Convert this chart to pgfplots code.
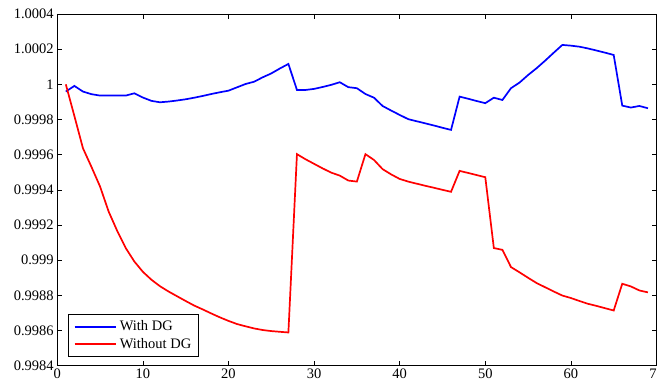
\documentclass[border=0pt]{standalone}
\usepackage{fontspec}
\setmainfont{Liberation Serif}
\usepackage{pgfplots}
\pgfplotsset{compat=1.18}
\usepackage{pgfplotstable}

\pgfplotstableread{
x y
1 0.999959
2 0.999991
3 0.999959
4 0.999944
5 0.999936
6 0.999936
7 0.999936
8 0.999936
9 0.999949
10 0.999925
11 0.999906
12 0.999898
13 0.999902
14 0.999908
15 0.999915
16 0.999924
17 0.999934
18 0.999945
19 0.999955
20 0.999964
21 0.999983
22 1.000002
23 1.000015
24 1.000040
25 1.000062
26 1.000090
27 1.000116
28 0.999968
29 0.999968
30 0.999974
31 0.999985
32 0.999997
33 1.000012
34 0.999984
35 0.999978
36 0.999945
37 0.999924
38 0.999877
39 0.999851
40 0.999826
41 0.999802
42 0.999790
43 0.999778
44 0.999766
45 0.999753
46 0.999741
47 0.999930
48 0.999918
49 0.999905
50 0.999893
51 0.999924
52 0.999911
53 0.999978
54 1.000010
55 1.000053
56 1.000092
57 1.000135
58 1.000180
59 1.000224
60 1.000220
61 1.000214
62 1.000204
63 1.000192
64 1.000180
65 1.000167
66 0.999879
67 0.999868
68 0.999877
69 0.999864
}\withDG

\pgfplotstableread{
x y
1 1.000000
2 0.999820
3 0.999637
4 0.999530
5 0.999419
6 0.999277
7 0.999167
8 0.999069
9 0.998993
10 0.998934
11 0.998889
12 0.998852
13 0.998822
14 0.998795
15 0.998768
16 0.998742
17 0.998720
18 0.998697
19 0.998675
20 0.998655
21 0.998637
22 0.998624
23 0.998612
24 0.998603
25 0.998597
26 0.998593
27 0.998589
28 0.999603
29 0.999574
30 0.999548
31 0.999522
32 0.999498
33 0.999481
34 0.999453
35 0.999447
36 0.999603
37 0.999570
38 0.999518
39 0.999488
40 0.999462
41 0.999447
42 0.999435
43 0.999423
44 0.999412
45 0.999400
46 0.999389
47 0.999508
48 0.999496
49 0.999484
50 0.999472
51 0.999069
52 0.999059
53 0.998961
54 0.998931
55 0.998900
56 0.998870
57 0.998846
58 0.998822
59 0.998799
60 0.998785
61 0.998768
62 0.998752
63 0.998740
64 0.998727
65 0.998714
66 0.998866
67 0.998851
68 0.998828
69 0.998817
}\withoutDG

\begin{document}
\begin{tikzpicture}
\begin{axis}[
  scale only axis,
  width=599.7pt, height=352pt,
  xmin=0, xmax=70, ymin=0.9984, ymax=1.0004,
  xtick={0,10,...,70},
  ytick={0.9984,0.9986,0.9988,0.999,0.9992,0.9994,0.9996,0.9998,1,1.0002,1.0004},
  yticklabels={0.9984,0.9986,0.9988,0.999,0.9992,0.9994,0.9996,0.9998,1,1.0002,1.0004},
  tick align=inside,
  major tick length=5pt,
  tick style={black, line width=0.6pt},
  axis line style={black, line width=0.9pt},
  /pgf/number format/assume math mode=true,
  tick label style={font=\fontsize{14.5}{17}\selectfont},
  legend style={at={(0.0183,0.0264)}, anchor=south west, draw=black, line width=0.9pt,
    font=\fontsize{14.5}{17}\selectfont, inner xsep=5pt, inner ysep=3.5pt,
    nodes={inner sep=2.5pt}, row sep=1pt},
  legend cell align=left,
  legend image code/.code={\draw[#1] (0pt,0pt) -- (42pt,0pt);},
]
\addplot[blue, line width=1.7pt] table[x=x,y=y] {\withDG};
\addlegendentry{With DG}
\addplot[red, line width=1.7pt] table[x=x,y=y] {\withoutDG};
\addlegendentry{Without DG}
\end{axis}
\pgfresetboundingbox
\useasboundingbox ([shift={(-57.3pt,-20pt)}]current axis.south west) rectangle ([shift={(0.5pt,14pt)}]current axis.north east);
\end{tikzpicture}
\end{document}
